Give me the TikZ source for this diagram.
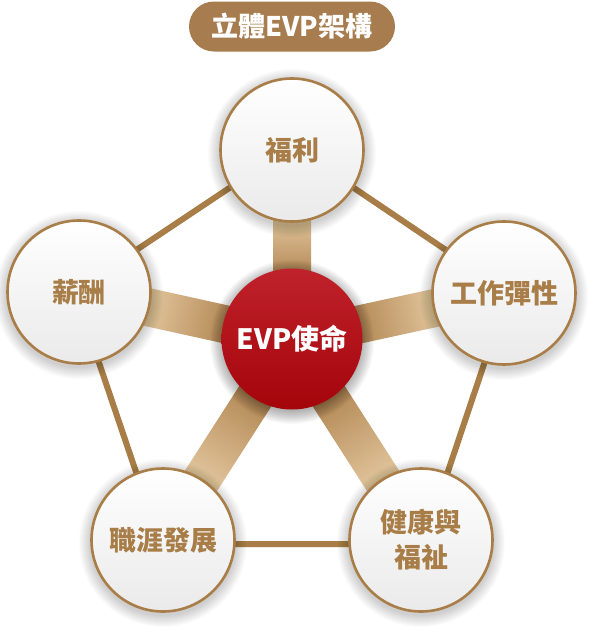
\documentclass[tikz,border=0pt]{standalone}
\usepackage{fontspec}
\newfontfamily\cjk{Noto Sans CJK TC}
\usetikzlibrary{calc}
\definecolor{gold}{HTML}{A87D47}
\definecolor{pillc}{HTML}{A77D4F}
\definecolor{spokedark}{HTML}{B08450}
\definecolor{spokelight}{HTML}{E4C8A0}
\definecolor{redtop}{HTML}{C0222B}
\definecolor{redbot}{HTML}{A4050B}
\definecolor{greybot}{HTML}{EAEAEA}
\begin{document}
\begin{tikzpicture}[x=1pt,y=-1pt,
  outer/.style={circle, minimum size=143pt, inner sep=0pt, draw=gold, line width=2.6pt,
    top color=white, bottom color=greybot, text=gold, align=center,
    font=\cjk\bfseries\fontsize{27}{35}\selectfont},
  core/.style={circle, minimum size=141pt, inner sep=0pt, top color=redtop, bottom color=redbot,
    text=white, font=\cjk\bfseries\fontsize{28}{34}\selectfont},
  pill/.style={fill=pillc, rounded corners=25pt, minimum width=206pt, minimum height=50pt,
    inner sep=0pt, text=white, font=\cjk\bfseries\fontsize{27}{32}\selectfont},
  edge/.style={draw=gold, line width=6pt},
  spoke/.style={left color=spokedark, right color=spokelight}
]
\fill[white] (0,0) rectangle (589,627);
\useasboundingbox (0,0) rectangle (589,627);

\coordinate (c) at (292,339);
\coordinate (p1) at (292,150);
\coordinate (p2) at (504,293);
\coordinate (p3) at (421,540);
\coordinate (p4) at (163,540);
\coordinate (p5) at (79,292);
\foreach \i in {1,...,5} \coordinate (q\i) at ($(c)!1.02!(p\i)$);

% pentagon edges
\draw[edge] (q1) -- (q2) -- (q3) -- (q4) -- (q5) -- cycle;

% spokes
\foreach \a/\l in {90/189, 12.24/216.9, -57.3/238.8, -122.7/238.8, 167.55/218.1}{
  \begin{scope}[transform canvas={shift={(c)}, rotate=\a}]
    \shade[spoke] (60,-19) rectangle (\l-66,19);
  \end{scope}
}

% soft shadows of outer circles
\foreach \i in {1,...,5}{
  \foreach \r in {1,...,12}{
    \fill[black, opacity=0.014] ($(p\i)+(0,3)$) circle (72+\r);
  }
}

\node[outer] (n1) at (p1) {福利};
\node[outer] (n2) at (p2) {工作彈性};
\node[outer] (n3) at (p3) {健康與\\福祉};
\node[outer] (n4) at (p4) {職涯發展};
\node[outer] (n5) at (p5) {薪酬};

% shadow of core
\foreach \r in {1,...,14}{
  \fill[black, opacity=0.025] ($(c)+(0,3)$) circle (68+\r);
}
\node[core] (core) at (c) {EVP使命};

\node[pill] (title) at (292,26.5) {立體EVP架構};
\end{tikzpicture}
\end{document}
